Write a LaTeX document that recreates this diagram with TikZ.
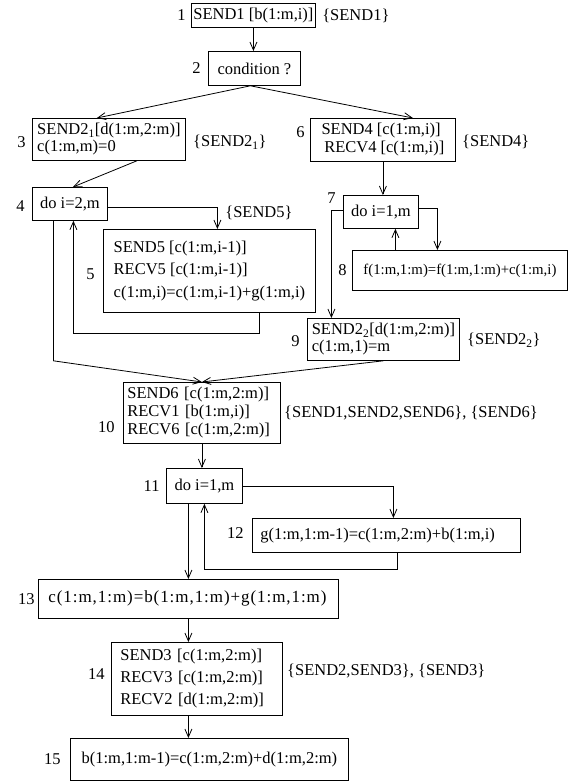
\documentclass[tikz,border=0pt]{standalone}
\usepackage{fontspec}
\setmainfont{Liberation Serif}
\usetikzlibrary{arrows.meta,positioning}

\begin{document}
\begin{tikzpicture}[
    x = 1pt, y = -1pt,
    > = {Straight Barb[length=8pt,width=7pt]}, % open arrow head
    line width = 0.8pt, % line style
    font = \fontsize{16.5}{19}\selectfont
    ]

    \tikzset{
    box/.style = {draw = black, rectangle, anchor = north west, inner sep = 2pt, align = left},
    num/.style = {inner sep = 0pt},
    note/.style = {inner sep = 0pt, anchor = west}
    }
    \useasboundingbox (0,0) rectangle (572,783);

    % statements
    \node[box, minimum width=116pt, minimum height=24pt] (s1) at (191,3) {SEND1 [b(1:m,i)]};
    \node[box, minimum width=92pt, minimum height=34pt] (s2) at (208,51) {condition ?};
    \node[box, minimum width=153pt, minimum height=42pt, inner sep=1pt,
          font=\fontsize{16.5}{17}\selectfont] (s3) at (32,118)
          {SEND2\textsubscript{1}[d(1:m,2:m)]\\ c(1:m,m)=0};
    \node[box, minimum width=75pt, minimum height=33pt] (s4) at (32,187) {do i=2,m};
    \node[box, minimum width=212pt, minimum height=83pt,
          font=\fontsize{16.5}{22.5}\selectfont] (s5) at (103,229)
          {SEND5 [c(1:m,i-1)]\\ RECV5 [c(1:m,i-1)]\\ c(1:m,i)=c(1:m,i-1)+g(1:m,i)};
    \node[box, minimum width=145pt, minimum height=43pt,
          font=\fontsize{16.5}{18}\selectfont] (s6) at (310,118)
          {SEND4 [c(1:m,i)]\\ \,RECV4 [c(1:m,i)]};
    \node[box, minimum width=75pt, minimum height=33pt] (s7) at (343,195) {do i=1,m};
    \node[box, minimum width=215pt, minimum height=40pt,
          font=\fontsize{14.8}{18}\selectfont] (s8) at (352,250)
          {f(1:m,1:m)=f(1:m,1:m)+c(1:m,i)};
    \node[box, minimum width=152pt, minimum height=42pt, inner sep=1pt,
          font=\fontsize{16.5}{17}\selectfont] (s9) at (307,318)
          {SEND2\textsubscript{2}[d(1:m,2:m)]\\ c(1:m,1)=m};
    \node[box, text width=149pt, inner xsep=4pt, minimum height=61pt,
          font=\fontsize{16.5}{18}\selectfont] (s10) at (123,382)
          {SEND6 [c(1:m,2:m)]\\ RECV1 [b(1:m,i)]\\ RECV6 [c(1:m,2:m)]};
    \node[box, minimum width=76pt, minimum height=35pt] (s11) at (166,468) {do i=1,m};
    \node[box, text width=252pt, inner xsep=8pt, minimum height=34pt] (s12) at (252,518)
          {g(1:m,1:m-1)=c(1:m,2:m)+b(1:m,i)};
    \node[box, text width=280pt, inner xsep=10pt, minimum height=39pt,
          font=\fontsize{17}{20}\selectfont\addfontfeature{LetterSpace=5.5}] (s13) at (38,579)
          {c(1:m,1:m)=b(1:m,1:m)+g(1:m,1:m)};
    \node[box, text width=153pt, inner xsep=9pt, minimum height=73pt,
          font=\fontsize{16.5}{22}\selectfont] (s14) at (111,642)
          {SEND3 [c(1:m,2:m)]\\ RECV3 [c(1:m,2:m)]\\ RECV2 [d(1:m,2:m)]};
    \node[box, minimum width=278pt, minimum height=42pt] (s15) at (70,738)
          {b(1:m,1:m-1)=c(1:m,2:m)+d(1:m,2:m)};

    % statement numbers
    \node[num, left=5pt of s1] (l1) {1};
    \node[num, left=7pt of s2] (l2) {2};
    \node[num, left=6pt of s3, yshift=-3pt] (l3) {3};
    \node[num, left=7pt of s4, yshift=-2pt] (l4) {4};
    \node[num, left=8pt of s5, yshift=-3pt] (l5) {5};
    \node[num, left=5pt of s6, yshift=8pt] (l6) {6};
    \node[num, left=7pt of s7, yshift=14pt] (l7) {7};
    \node[num, left=5pt of s8] (l8) {8};
    \node[num, left=7pt of s9, yshift=-2pt] (l9) {9};
    \node[num, left=8pt of s10, yshift=-14pt] (l10) {10};
    \node[num, left=6pt of s11] (l11) {11};
    \node[num, left=8pt of s12, yshift=2pt] (l12) {12};
    \node[num, left=3pt of s13] (l13) {13};
    \node[num, left=6pt of s14, yshift=5pt] (l14) {14};
    \node[num, left=9pt of s15] (l15) {15};

    % communication sets
    \node[note, right=6pt of s1] (c1) {\{SEND1\}};
    \node[note, right=7pt of s3, yshift=-3pt] (c3) {\{SEND2\textsubscript{1}\}};
    \node[note, right=6pt of s6, yshift=-2pt] (c6) {\{SEND4\}};
    \node[note] (c5) at (225,213) {\{SEND5\}};
    \node[note, right=7pt of s9, yshift=-1pt] (c9) {\{SEND2\textsubscript{2}\}};
    \node[note, right=3pt of s10] (c10) {\{SEND1,SEND2,SEND6\}, \{SEND6\}};
    \node[note, right=4pt of s14, yshift=8pt] (c14) {\{SEND2,SEND3\}, \{SEND3\}};

    % control flow
    \draw[->] (s1.south) -- (s1.south |- s2.north);
    \draw[->] ([xshift=-4pt]s2.south) -- ([xshift=-12pt]s3.north);
    \draw[->] ([xshift=-4pt]s2.south) -- ([xshift=30pt]s6.north);
    \draw[->] ([xshift=28pt]s3.south) -- ([xshift=3pt]s4.north);
    \draw[->] ([yshift=-3.5pt]s4.east) -| ([xshift=8pt]s5.north);
    \draw[->] ([xshift=50pt]s5.south) -- ++(0,21) -| ([xshift=3.5pt]s4.south);
    \draw[->] ([xshift=-16.5pt]s4.south) -- ++(0,140) -- (s10.north);
    \draw[->] (s6.south) -- (s6.south |- s7.north);
    \draw[->] ([yshift=3pt]s7.east) -| ([xshift=-22.5pt]s8.north);
    \draw[<-] ([xshift=14.5pt]s7.south) -- ([xshift=14.5pt]s7.south |- s8.north);
    \draw[->] ([yshift=1pt]s7.west) -| ([xshift=-52pt]s9.north);
    \draw[->] (s9.south) -- (s10.north);
    \draw[->] (s10.south) -- (s10.south |- s11.north);
    \draw[->] (s11.east) -| ([xshift=7pt]s12.north);
    \draw[->] ([xshift=11pt]s12.south) -- ++(0,17) -| (s11.south);
    \draw[->] (s11.south -| s13.south) -- (s13.north);
    \draw[->] (s13.south) -- (s13.south |- s14.north);
    \draw[->] (s14.south -| s13.south) -- (s13.south |- s15.north);
\end{tikzpicture}
\end{document}
